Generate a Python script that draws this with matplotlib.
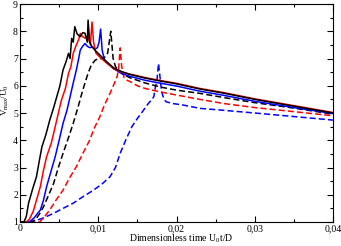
import matplotlib.pyplot as plt
import matplotlib.ticker as ticker

plt.rcParams['font.family'] = ['Liberation Serif', 'DejaVu Serif']
plt.rcParams['mathtext.fontset'] = 'custom'
plt.rcParams['mathtext.rm'] = 'Liberation Serif'
plt.rcParams['mathtext.it'] = 'Liberation Serif'

# solid lines
x_black = [0, 0.0005, 0.0008, 0.0011, 0.0016, 0.0021, 0.0025, 0.0028, 0.0033, 0.0038, 0.0043,
           0.0047, 0.0051, 0.0055, 0.0059, 0.0062, 0.0064, 0.0066, 0.0068, 0.0070, 0.0073,
           0.0077, 0.0080, 0.0083, 0.0086, 0.0087, 0.0089, 0.0092, 0.0096, 0.0102, 0.011,
           0.012, 0.013, 0.014, 0.016, 0.018, 0.02, 0.023, 0.026, 0.03, 0.035, 0.04]
y_black = [1.0, 1.0, 1.2, 1.7, 2.2, 2.66, 3.3, 3.76, 4.2, 4.74, 5.2,
           5.6, 6.0, 6.58, 6.9, 7.19, 7.0, 7.74, 7.6, 8.17, 7.9,
           7.8, 7.95, 7.93, 7.6, 8.41, 7.6, 7.43, 7.3, 7.13, 6.9,
           6.65, 6.52, 6.42, 6.28, 6.17, 6.07, 5.88, 5.73, 5.5, 5.25, 5.0]

x_red = [0, 0.0008, 0.0012, 0.0017, 0.0021, 0.0026, 0.003, 0.0034, 0.004, 0.0045, 0.0049,
         0.0053, 0.0058, 0.0062, 0.0065, 0.0068, 0.0072, 0.0075, 0.0077, 0.008, 0.0083,
         0.0087, 0.009, 0.0092, 0.0094, 0.0097, 0.0102, 0.011, 0.012, 0.013, 0.014, 0.016,
         0.018, 0.02, 0.023, 0.026, 0.03, 0.035, 0.04]
y_red = [1.0, 1.0, 1.1, 1.4, 1.8, 2.3, 2.9, 3.4, 3.9, 4.5, 5.0,
         5.48, 5.9, 6.46, 6.7, 7.19, 7.5, 7.7, 7.92, 7.8, 7.75,
         7.8, 7.5, 8.34, 7.6, 7.2, 7.05, 6.85, 6.62, 6.5, 6.43, 6.3,
         6.19, 6.09, 5.9, 5.75, 5.52, 5.27, 5.02]

x_blue = [0, 0.0012, 0.0018, 0.0022, 0.0026, 0.003, 0.0034, 0.004, 0.0045, 0.005, 0.0055,
          0.006, 0.0064, 0.0068, 0.0072, 0.0075, 0.0077, 0.008, 0.0083, 0.0086, 0.0089,
          0.0093, 0.0096, 0.0099, 0.0101, 0.0103, 0.0105, 0.0108, 0.0115, 0.012, 0.013,
          0.014, 0.016, 0.018, 0.02, 0.023, 0.026, 0.03, 0.035, 0.04]
y_blue = [1.0, 1.0, 1.15, 1.3, 1.44, 1.8, 2.3, 2.9, 3.4, 4.0, 4.62,
          5.1, 5.6, 6.1, 6.58, 7.0, 7.31, 7.45, 7.55, 7.45, 7.4,
          7.42, 7.35, 7.4, 7.6, 8.08, 7.3, 6.95, 6.75, 6.62, 6.45,
          6.35, 6.2, 6.09, 5.99, 5.8, 5.65, 5.43, 5.2, 4.98]

# dashed lines
x_black_d = [0, 0.0015, 0.002, 0.0025, 0.003, 0.0036, 0.0043, 0.0049, 0.0055, 0.0062, 0.0068,
             0.0074, 0.0079, 0.0083, 0.0087, 0.0091, 0.0096, 0.0101, 0.0107, 0.0112, 0.0116,
             0.0119, 0.0122, 0.0127, 0.013, 0.014, 0.016, 0.018, 0.02, 0.023, 0.026, 0.03,
             0.035, 0.04]
y_black_d = [1.0, 1.0, 1.1, 1.3, 1.56, 1.95, 2.42, 3.0, 3.52, 4.1, 4.62,
             5.2, 5.72, 6.1, 6.46, 6.75, 6.94, 7.0, 7.0, 7.2, 8.0,
             7.0, 6.7, 6.55, 6.45, 6.3, 6.1, 5.95, 5.84, 5.72, 5.57, 5.38,
             5.18, 4.96]

x_red_d = [0, 0.0025, 0.003, 0.0038, 0.0046, 0.0055, 0.0063, 0.0072, 0.008, 0.0089, 0.0095,
           0.0102, 0.0108, 0.0115, 0.012, 0.0124, 0.0126, 0.0128, 0.013, 0.0133, 0.0137,
           0.0141, 0.015, 0.016, 0.018, 0.02, 0.023, 0.026, 0.03, 0.035, 0.04]
y_red_d = [1.0, 1.0, 1.15, 1.44, 1.8, 2.17, 2.6, 3.03, 3.5, 4.0, 4.45,
           4.86, 5.3, 5.72, 6.05, 6.33, 6.6, 7.39, 6.7, 6.3, 6.2,
           6.15, 6.0, 5.9, 5.77, 5.66, 5.5, 5.35, 5.2, 5.05, 4.9]

x_blue_d = [0, 0.001, 0.002, 0.003, 0.0043, 0.0055, 0.0068, 0.008, 0.0094, 0.0105, 0.0115,
            0.0122, 0.0128, 0.0135, 0.0143, 0.015, 0.0158, 0.0164, 0.0168, 0.0171, 0.0173,
            0.0175, 0.0177, 0.0179, 0.0181, 0.0184, 0.0187, 0.0195, 0.0209, 0.023, 0.0256,
            0.03, 0.035, 0.04]
y_blue_d = [1.0, 1.0, 1.05, 1.15, 1.32, 1.5, 1.69, 1.92, 2.17, 2.4, 2.66,
            3.0, 3.52, 4.0, 4.5, 4.8, 5.11, 5.35, 5.48, 5.6, 5.96,
            6.2, 6.82, 6.3, 5.78, 5.5, 5.41, 5.35, 5.29, 5.17, 5.11,
            5.0, 4.87, 4.74]

x_ticks = [0, 0.01, 0.02, 0.03, 0.04]
x_tick_labels = ["0", "0,01", "0,02", "0,03", "0,04"]
y_ticks = [1, 2, 3, 4, 5, 6, 7, 8, 9]

fig = plt.figure(figsize=(3.41, 2.46), dpi=100)
ax = fig.add_axes([0.0587, 0.0976, 0.9178, 0.886])

lw = 1.1
dash = (4, 2)
ax.plot(x_blue_d, y_blue_d, color='#0000ff', lw=lw, dashes=dash)
ax.plot(x_red_d, y_red_d, color='#ff0000', lw=lw, dashes=dash)
ax.plot(x_black_d, y_black_d, color='black', lw=lw, dashes=dash)
ax.plot(x_blue, y_blue, color='#0000ff', lw=lw)
ax.plot(x_red, y_red, color='#ff0000', lw=lw)
ax.plot(x_black, y_black, color='black', lw=lw)

ax.set_xlim(0, 0.04)
ax.set_ylim(1, 9)
ax.set_xticks(x_ticks)
ax.set_xticklabels(x_tick_labels)
ax.set_yticks(y_ticks)
ax.xaxis.set_minor_locator(ticker.MultipleLocator(0.005))
ax.yaxis.set_minor_locator(ticker.MultipleLocator(0.5))
ax.tick_params(which='both', direction='in', top=True, right=True, labelsize=7, pad=1.5)
ax.tick_params(which='major', length=4, width=0.8)
ax.tick_params(which='minor', length=2, width=0.8)

ax.set_xlabel(r"Dimensionless time U$_0$t/D", fontsize=7)
ax.set_ylabel(r"V$_{max}$/U$_0$", fontsize=6.5)
ax.xaxis.set_label_coords(0.514, -0.048)
ax.yaxis.set_label_coords(-0.029, 0.56)

fig.savefig("out.png", dpi=100)
